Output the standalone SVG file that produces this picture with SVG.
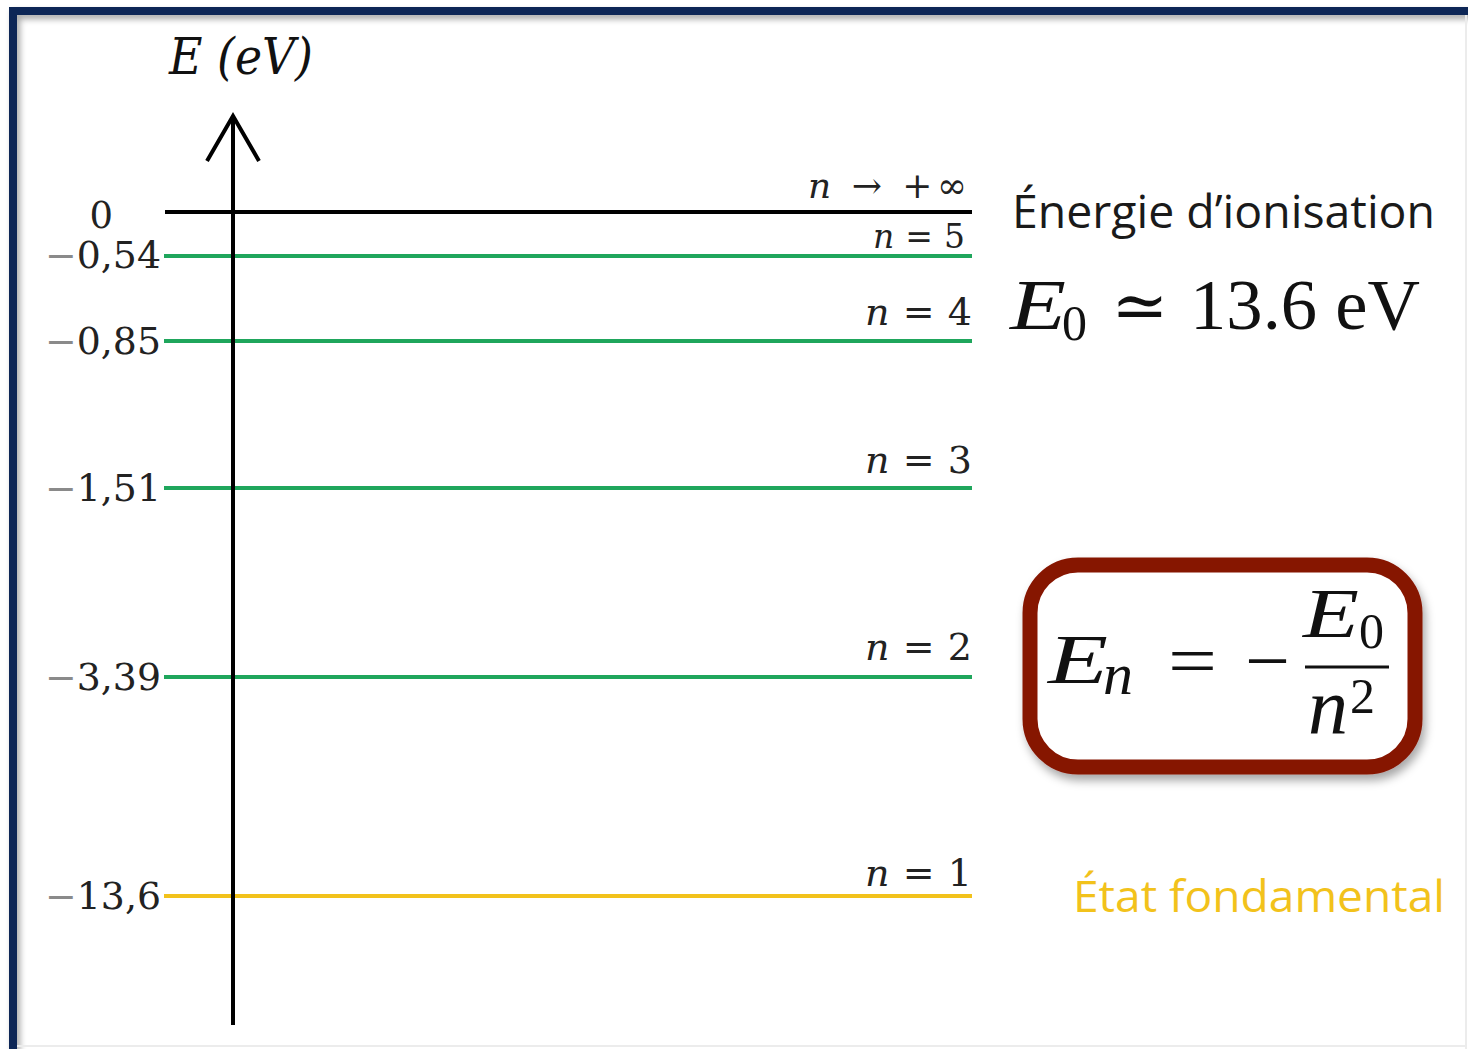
<svg xmlns="http://www.w3.org/2000/svg" width="1468" height="1049" viewBox="0 0 1468 1049">
<defs>
<filter id="sh" x="-10%" y="-10%" width="130%" height="130%">
<feDropShadow dx="3" dy="6" stdDeviation="5" flood-color="#000" flood-opacity="0.35"/>
</filter>
<filter id="bsh" x="-5%" y="-5%" width="110%" height="110%">
<feDropShadow dx="3" dy="4" stdDeviation="3" flood-color="#000" flood-opacity="0.35"/>
</filter>
<style>
.lvl{stroke-width:4;fill:none}
.g{stroke:#1fa65c}
.y{stroke:#f2c21b}
.num{font-family:"DejaVu Serif","Liberation Serif",serif;font-size:37px;fill:#222;text-anchor:end}
.mi{fill:#8a8a8a}
.nl{font-family:"DejaVu Serif","Liberation Serif",serif;font-size:38px;fill:#222;text-anchor:end}
.nl.sm{font-size:36px}
.nl.xs{font-size:33px}
.it{font-style:italic}
.math{font-family:"Liberation Serif","DejaVu Serif",serif;fill:#111}
.sans{font-family:"Open Sans","Noto Sans","Liberation Sans",sans-serif}
</style>
</defs>
<rect width="1468" height="1049" fill="#ffffff"/>
<g id="frame">
<path d="M13 1049 V11 H1468" fill="none" stroke="#0b2857" stroke-width="8" filter="url(#bsh)"/>
<line x1="1466" y1="15" x2="1466" y2="1049" stroke="#ececec" stroke-width="2"/>
<line x1="17" y1="1046" x2="1466" y2="1046" stroke="#ececec" stroke-width="2"/>
</g>
<g id="levels">
<line id="lvl-inf" class="lvl" x1="165" y1="212" x2="972" y2="212" stroke="#000"/>
<line id="lvl-5" class="lvl g" x1="164" y1="256" x2="972" y2="256"/>
<line id="lvl-4" class="lvl g" x1="164" y1="341" x2="972" y2="341"/>
<line id="lvl-3" class="lvl g" x1="164" y1="488" x2="972" y2="488"/>
<line id="lvl-2" class="lvl g" x1="164" y1="677" x2="972" y2="677"/>
<line id="lvl-1" class="lvl y" x1="164" y1="896" x2="972" y2="896"/>
</g>
<g id="connectors">
<line x1="233" y1="1025" x2="233" y2="116" stroke="#000" stroke-width="4"/>
<polyline points="207,161 233,116 259,161" fill="none" stroke="#000" stroke-width="4" stroke-linejoin="miter"/>
</g>
<g id="axis-label">
<text x="169" y="74" class="math it" font-size="50" fill="#222" textLength="144" lengthAdjust="spacingAndGlyphs" style="font-family:'DejaVu Serif','Liberation Serif',serif">E (eV)</text>
</g>
<g id="values">
<text x="113" y="228" class="num">0</text>
<text x="161" y="268" class="num" textLength="116" lengthAdjust="spacingAndGlyphs"><tspan class="mi">−</tspan>0,54</text>
<text x="161" y="354" class="num" textLength="116" lengthAdjust="spacingAndGlyphs"><tspan class="mi">−</tspan>0,85</text>
<text x="161" y="501" class="num" textLength="116" lengthAdjust="spacingAndGlyphs"><tspan class="mi">−</tspan>1,51</text>
<text x="161" y="690" class="num" textLength="116" lengthAdjust="spacingAndGlyphs"><tspan class="mi">−</tspan>3,39</text>
<text x="161" y="909" class="num" textLength="116" lengthAdjust="spacingAndGlyphs"><tspan class="mi">−</tspan>13,6</text>
</g>
<g id="n-labels">
<text x="967" y="198" class="nl sm" textLength="159" lengthAdjust="spacing"><tspan class="it">n</tspan> → +∞</text>
<text x="965" y="248" class="nl xs" textLength="92" lengthAdjust="spacing"><tspan class="it">n</tspan> = 5</text>
<text x="972" y="325" class="nl" textLength="107" lengthAdjust="spacing"><tspan class="it">n</tspan> = 4</text>
<text x="972" y="473" class="nl" textLength="107" lengthAdjust="spacing"><tspan class="it">n</tspan> = 3</text>
<text x="972" y="660" class="nl" textLength="107" lengthAdjust="spacing"><tspan class="it">n</tspan> = 2</text>
<text x="972" y="886" class="nl" textLength="107" lengthAdjust="spacing"><tspan class="it">n</tspan> = 1</text>
</g>
<g id="ionisation">
<text x="1012" y="228" class="sans" font-size="46" fill="#1a1a1a" textLength="423" lengthAdjust="spacingAndGlyphs">Énergie d’ionisation</text>
<text x="1010" y="329" class="math it" font-size="72" textLength="56" lengthAdjust="spacingAndGlyphs">E</text>
<text x="1062" y="340" class="math" font-size="50">0</text>
<text x="1140" y="329" class="math" font-size="68" text-anchor="middle" style="font-family:'DejaVu Serif',serif">≃</text>
<text x="1190" y="329" class="math" font-size="72" textLength="230" lengthAdjust="spacingAndGlyphs">13.6 eV</text>
</g>
<g id="formula">
<rect x="1030" y="565" width="385" height="202" rx="48" fill="#fff" stroke="#861400" stroke-width="15" filter="url(#sh)"/>
<text x="1048" y="683" class="math it" font-size="70" textLength="60" lengthAdjust="spacingAndGlyphs">E</text>
<text x="1103" y="694" class="math it" font-size="60">n</text>
<text x="1168" y="685" class="math" font-size="72" textLength="49" lengthAdjust="spacingAndGlyphs">=</text>
<text x="1245" y="685" class="math" font-size="72" textLength="45" lengthAdjust="spacingAndGlyphs">−</text>
<line x1="1305" y1="667" x2="1389" y2="667" stroke="#111" stroke-width="3"/>
<text x="1303" y="637" class="math it" font-size="70" textLength="56" lengthAdjust="spacingAndGlyphs">E</text>
<text x="1359" y="648" class="math" font-size="50">0</text>
<text x="1308" y="733" class="math it" font-size="80">n</text>
<text x="1350" y="713" class="math" font-size="50">2</text>
</g>
<g id="fondamental">
<text x="1073" y="912" class="sans" font-size="44" fill="#f2c21b" textLength="372" lengthAdjust="spacingAndGlyphs">État fondamental</text>
</g>
</svg>
